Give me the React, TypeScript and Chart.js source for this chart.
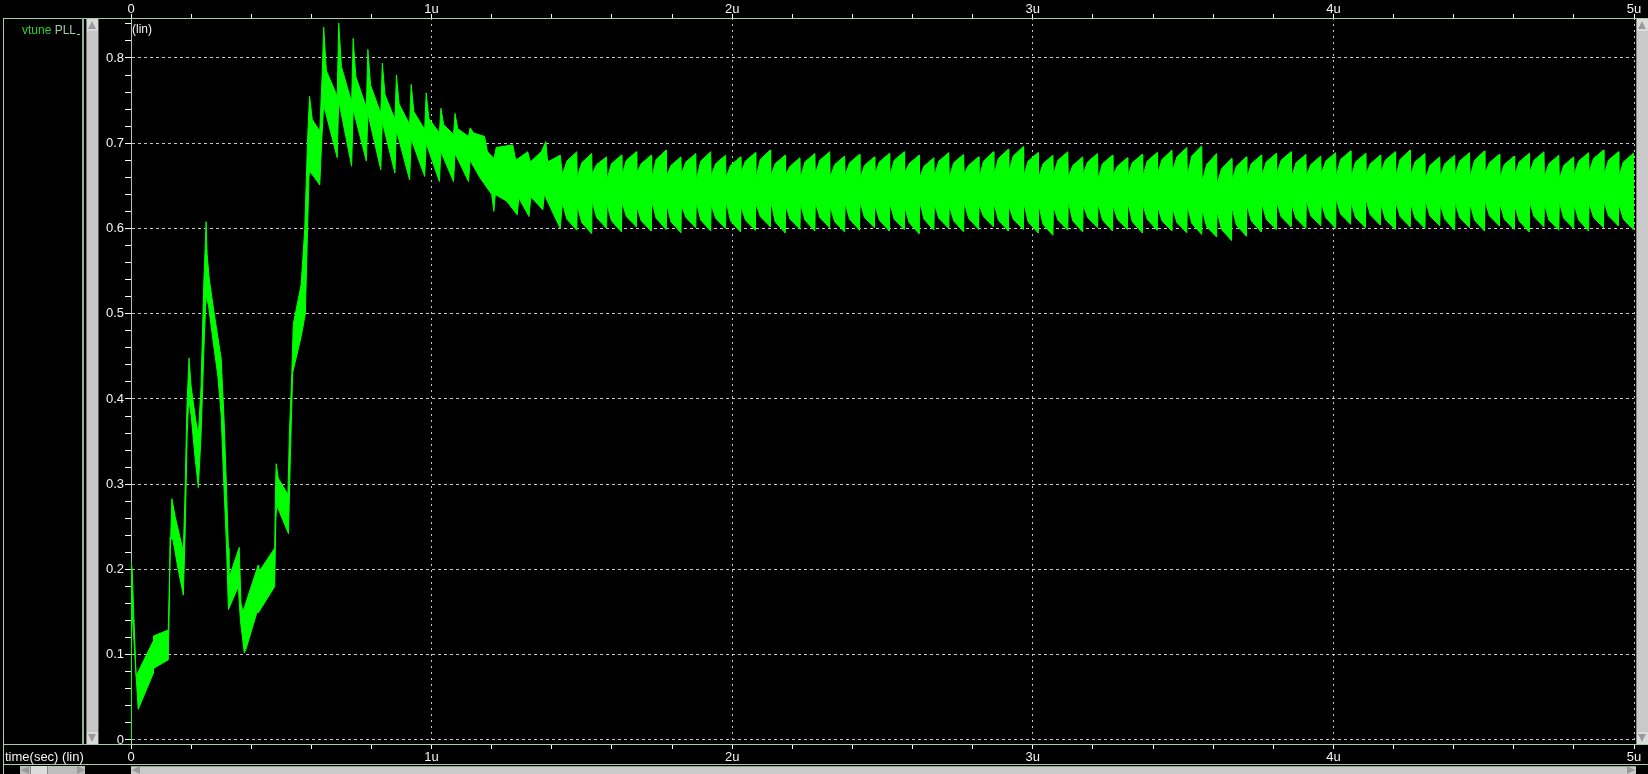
import React, { useEffect, useRef } from 'react';
import { Chart, registerables } from 'chart.js';

Chart.register(...registerables);

// ---------- axis labels ----------
const xTickLabels = ['0', '1u', '2u', '3u', '4u', '5u'];
const yTickLabels = ['0', '0.1', '0.2', '0.3', '0.4', '0.5', '0.6', '0.7', '0.8'];

// ---------- start-up transient envelope (time in µs, volts) ----------
const upperT = [
  0, 0, 0.004, 0.01, 0.017, 0.074, 0.075, 0.124, 0.128, 0.136, 0.147, 0.174, 0.179, 0.186, 0.193,
  0.2, 0.213, 0.224, 0.233, 0.242, 0.25, 0.253, 0.26, 0.273, 0.3, 0.309, 0.317, 0.324, 0.326, 0.36,
  0.366, 0.373, 0.423, 0.425, 0.478, 0.481, 0.483, 0.49, 0.522, 0.527, 0.535, 0.54, 0.566, 0.578,
  0.588, 0.594, 0.603, 0.628, 0.636, 0.641, 0.65, 0.686, 0.691, 0.7, 0.734, 0.739, 0.748, 0.783,
  0.788, 0.797, 0.831, 0.836, 0.845, 0.878, 0.883, 0.892, 0.927, 0.932, 0.941, 0.977, 0.982, 0.991,
  1.026, 1.031, 1.04, 1.073, 1.078, 1.087, 1.123, 1.128, 1.14, 1.176, 1.186, 1.208, 1.215, 1.27,
  1.28, 1.32, 1.328, 1.365, 1.38, 1.386, 1.428,
];
const upperV = [
  0, 0.21, 0.2, 0.14, 0.075, 0.116, 0.122, 0.129, 0.19, 0.283, 0.262, 0.221, 0.28, 0.39, 0.448,
  0.415, 0.381, 0.357, 0.415, 0.534, 0.608, 0.571, 0.542, 0.509, 0.447, 0.381, 0.303, 0.225, 0.19, 0.226,
  0.16, 0.151, 0.205, 0.197, 0.225, 0.3, 0.324, 0.307, 0.288, 0.36, 0.431, 0.488, 0.534, 0.6,
  0.71, 0.755, 0.728, 0.714, 0.78, 0.836, 0.785, 0.755, 0.841, 0.79, 0.748, 0.823, 0.778, 0.742,
  0.81, 0.768, 0.735, 0.794, 0.757, 0.728, 0.78, 0.746, 0.722, 0.769, 0.737, 0.716, 0.759, 0.729,
  0.712, 0.741, 0.722, 0.71, 0.735, 0.717, 0.708, 0.718, 0.712, 0.708, 0.69, 0.682, 0.695, 0.698,
  0.68, 0.69, 0.678, 0.69, 0.702, 0.678, 0.686,
];
const lowerT = [
  0, 0.002, 0.01, 0.024, 0.074, 0.075, 0.124, 0.128, 0.13, 0.14, 0.157, 0.174, 0.18, 0.187, 0.192,
  0.2, 0.213, 0.224, 0.233, 0.244, 0.25, 0.258, 0.273, 0.289, 0.3, 0.308, 0.318, 0.324, 0.357, 0.364,
  0.377, 0.382, 0.42, 0.423, 0.478, 0.482, 0.485, 0.524, 0.53, 0.538, 0.566, 0.58, 0.586, 0.592,
  0.594, 0.61, 0.628, 0.634, 0.641, 0.686, 0.691, 0.734, 0.739, 0.783, 0.788, 0.831, 0.836, 0.878,
  0.883, 0.927, 0.932, 0.977, 0.982, 1.026, 1.031, 1.073, 1.078, 1.123, 1.128, 1.16, 1.2, 1.207,
  1.212, 1.25, 1.285, 1.29, 1.324, 1.33, 1.37, 1.375, 1.428,
];
const lowerV = [
  0, 0.16, 0.115, 0.036, 0.078, 0.084, 0.094, 0.17, 0.238, 0.234, 0.2, 0.17, 0.24, 0.36, 0.4,
  0.381, 0.332, 0.296, 0.357, 0.473, 0.521, 0.509, 0.468, 0.427, 0.381, 0.307, 0.225, 0.153, 0.18, 0.14,
  0.102, 0.106, 0.151, 0.149, 0.18, 0.26, 0.275, 0.242, 0.33, 0.431, 0.473, 0.5, 0.58, 0.66,
  0.667, 0.66, 0.651, 0.7, 0.745, 0.683, 0.75, 0.673, 0.74, 0.679, 0.735, 0.669, 0.725, 0.665,
  0.715, 0.657, 0.705, 0.661, 0.7, 0.655, 0.69, 0.655, 0.688, 0.655, 0.68, 0.66, 0.64, 0.62,
  0.64, 0.632, 0.616, 0.636, 0.614, 0.637, 0.622, 0.64, 0.6,
];

// ---------- settled ripple: one entry per reference-clock tooth ----------
const TOOTH_START = 1.435;
const TOOTH_PERIOD = 0.0495;
const KNEE_AT = 0.3; // fraction of the tooth where the knee values are read
const hiBase = [
  0.663, 0.66, 0.664, 0.658, 0.662, 0.665, 0.659, 0.661, 0.664, 0.657,
  0.662, 0.66, 0.665, 0.658, 0.661, 0.663, 0.659, 0.664, 0.66, 0.662,
  0.658, 0.663, 0.661, 0.665, 0.659, 0.662, 0.66, 0.664, 0.658, 0.663,
  0.666, 0.661, 0.659, 0.663, 0.66, 0.664, 0.658, 0.662, 0.661, 0.66,
  0.664, 0.667, 0.662, 0.655, 0.652, 0.656, 0.659, 0.661, 0.663, 0.66,
  0.662, 0.664, 0.661, 0.659, 0.663, 0.665, 0.66, 0.662, 0.658, 0.661,
  0.663, 0.66, 0.664, 0.659, 0.662, 0.665, 0.661, 0.658, 0.663, 0.666, 0.662, 0.66,
];
const hiKnee = [
  0.679, 0.677, 0.675, 0.676, 0.68, 0.676, 0.681, 0.674, 0.678, 0.679,
  0.676, 0.674, 0.679, 0.681, 0.676, 0.673, 0.678, 0.68, 0.675, 0.677,
  0.674, 0.678, 0.68, 0.676, 0.673, 0.679, 0.677, 0.674, 0.679, 0.682,
  0.685, 0.679, 0.676, 0.68, 0.674, 0.678, 0.676, 0.673, 0.677, 0.679,
  0.681, 0.684, 0.685, 0.675, 0.67, 0.673, 0.676, 0.678, 0.68, 0.677,
  0.675, 0.679, 0.681, 0.678, 0.676, 0.68, 0.681, 0.678, 0.674, 0.676,
  0.679, 0.68, 0.677, 0.675, 0.678, 0.68, 0.676, 0.674, 0.679, 0.682, 0.68, 0.678,
];
const hiPeak = [
  0.69, 0.688, 0.684, 0.686, 0.69, 0.686, 0.692, 0.684, 0.688, 0.69,
  0.686, 0.684, 0.689, 0.692, 0.686, 0.683, 0.688, 0.69, 0.685, 0.687,
  0.684, 0.688, 0.69, 0.686, 0.683, 0.689, 0.687, 0.684, 0.69, 0.693,
  0.696, 0.689, 0.686, 0.69, 0.684, 0.688, 0.686, 0.683, 0.687, 0.689,
  0.692, 0.695, 0.697, 0.688, 0.682, 0.684, 0.686, 0.688, 0.69, 0.687,
  0.685, 0.689, 0.691, 0.688, 0.686, 0.69, 0.692, 0.688, 0.684, 0.686,
  0.689, 0.691, 0.687, 0.685, 0.688, 0.69, 0.686, 0.684, 0.689, 0.692, 0.69, 0.688,
];
const loBase = [
  0.63, 0.627, 0.632, 0.628, 0.631, 0.626, 0.633, 0.629, 0.627, 0.631,
  0.628, 0.632, 0.626, 0.63, 0.633, 0.627, 0.629, 0.631, 0.626, 0.63,
  0.632, 0.628, 0.63, 0.626, 0.633, 0.629, 0.627, 0.631, 0.628, 0.63,
  0.627, 0.631, 0.629, 0.626, 0.632, 0.628, 0.63, 0.627, 0.631, 0.629,
  0.626, 0.624, 0.627, 0.622, 0.62, 0.625, 0.628, 0.63, 0.632, 0.629,
  0.633, 0.63, 0.635, 0.631, 0.634, 0.629, 0.632, 0.63, 0.633, 0.628,
  0.631, 0.629, 0.633, 0.63, 0.627, 0.632, 0.629, 0.631, 0.628, 0.63, 0.632, 0.629,
];
const loKnee = [
  0.611, 0.607, 0.613, 0.609, 0.614, 0.609, 0.612, 0.608, 0.613, 0.61,
  0.612, 0.609, 0.61, 0.614, 0.608, 0.611, 0.61, 0.613, 0.608, 0.611,
  0.613, 0.61, 0.611, 0.607, 0.611, 0.612, 0.609, 0.612, 0.614, 0.61,
  0.611, 0.608, 0.605, 0.61, 0.609, 0.613, 0.61, 0.611, 0.608, 0.611,
  0.609, 0.607, 0.606, 0.602, 0.599, 0.604, 0.609, 0.611, 0.614, 0.612,
  0.615, 0.613, 0.617, 0.613, 0.616, 0.611, 0.614, 0.612, 0.615, 0.611,
  0.613, 0.61, 0.615, 0.611, 0.609, 0.614, 0.61, 0.612, 0.61, 0.613, 0.615, 0.611,
];
const loTrough = [
  0.598, 0.594, 0.6, 0.596, 0.602, 0.597, 0.599, 0.595, 0.601, 0.597,
  0.6, 0.596, 0.598, 0.602, 0.595, 0.599, 0.597, 0.601, 0.596, 0.598,
  0.601, 0.597, 0.599, 0.594, 0.598, 0.6, 0.596, 0.599, 0.602, 0.597,
  0.599, 0.595, 0.592, 0.598, 0.596, 0.601, 0.597, 0.599, 0.595, 0.598,
  0.597, 0.595, 0.593, 0.59, 0.586, 0.591, 0.596, 0.599, 0.602, 0.6,
  0.603, 0.6, 0.605, 0.601, 0.604, 0.599, 0.602, 0.6, 0.603, 0.598,
  0.601, 0.597, 0.603, 0.599, 0.596, 0.602, 0.598, 0.6, 0.597, 0.601, 0.603, 0.599,
];

// ---------- styling ----------
const GREEN = '#00ff00';
const FRAME = '#a6cea6';
const GRID = '#c6c6c6';
const TEXT = '#f4f4f4';
const FONT = "'Liberation Sans', Arial, sans-serif";

const X_MAX = 5;
const Y_MIN = -0.0047;
const Y_MAX = 0.8469;

function buildEnvelope() {
  const hi = upperT.map((t, i) => ({ x: t, y: upperV[i] }));
  const lo = lowerT.map((t, i) => ({ x: t, y: lowerV[i] }));
  for (let k = 0; k < hiPeak.length; k++) {
    const t0 = TOOTH_START + k * TOOTH_PERIOD;
    const tk = t0 + KNEE_AT * TOOTH_PERIOD;
    const t1 = Math.min(X_MAX, t0 + TOOTH_PERIOD - 0.0015);
    hi.push({ x: t0, y: hiBase[k] }, { x: tk, y: hiKnee[k] }, { x: t1, y: hiPeak[k] });
    lo.push({ x: t0, y: loBase[k] }, { x: tk, y: loKnee[k] }, { x: t1, y: loTrough[k] });
  }
  return [...hi, ...lo.reverse()];
}

const xTickValues = Array.from({ length: 26 }, (_, i) => Math.round(i * 2) / 10);
const yTickValues = Array.from({ length: 43 }, (_, i) => Math.round(i * 2) / 100);

const isWhole = (v: number, step: number) => Math.abs(v / step - Math.round(v / step)) < 1e-6;

function xAxis(position: 'top' | 'bottom') {
  const top = position === 'top';
  return {
    type: 'linear',
    position,
    min: 0,
    max: X_MAX,
    afterBuildTicks: (s: any) => {
      s.ticks = xTickValues.map((value) => ({ value }));
    },
    afterFit: (s: any) => {
      s.height = top ? 18 : 30;
    },
    ticks: {
      autoSkip: false,
      maxRotation: 0,
      color: TEXT,
      padding: top ? -2 : 2,
      font: { family: FONT, size: 13, lineHeight: 1 },
      callback: (v: number) => (isWhole(v, 1) ? xTickLabels[Math.round(v)] : ''),
    },
    grid: {
      drawOnChartArea: !top,
      tickLength: top ? 4 : 5,
      lineWidth: 1,
      color: (c: any) => (c.tick && isWhole(c.tick.value, 1) && c.tick.value > 0 ? GRID : 'rgba(0,0,0,0)'),
      tickColor: '#ffffff',
      tickWidth: 1,
    },
    border: { display: true, color: FRAME, width: 1, dash: [2, 4] },
  };
}

const abs = (s: React.CSSProperties): React.CSSProperties => ({ position: 'absolute', boxSizing: 'border-box', ...s });

function Tri({ x, y, dir, size = 4, color = '#9a9a9a' }: { x: number; y: number; dir: 'up' | 'down' | 'left' | 'right'; size?: number; color?: string }) {
  const t = 'transparent';
  const st: React.CSSProperties = { position: 'absolute', left: x, top: y, width: 0, height: 0 };
  if (dir === 'up') Object.assign(st, { borderLeft: `${size}px solid ${t}`, borderRight: `${size}px solid ${t}`, borderBottom: `${size * 2}px solid ${color}` });
  if (dir === 'down') Object.assign(st, { borderLeft: `${size}px solid ${t}`, borderRight: `${size}px solid ${t}`, borderTop: `${size * 2}px solid ${color}` });
  if (dir === 'left') Object.assign(st, { borderTop: `${size}px solid ${t}`, borderBottom: `${size}px solid ${t}`, borderRight: `${size * 2}px solid ${color}` });
  if (dir === 'right') Object.assign(st, { borderTop: `${size}px solid ${t}`, borderBottom: `${size}px solid ${t}`, borderLeft: `${size * 2}px solid ${color}` });
  return <div style={st} />;
}

export default function App() {
  const ref = useRef<HTMLCanvasElement>(null);

  useEffect(() => {
    document.body.style.margin = '0';
    document.body.style.background = '#000';
    const canvas = ref.current;
    if (!canvas) return;
    const chart = new Chart(canvas, {
      type: 'line',
      data: {
        datasets: [
          {
            label: 'vtune PLL',
            data: buildEnvelope(),
            borderColor: GREEN,
            backgroundColor: GREEN,
            borderWidth: 1,
            pointRadius: 0,
            tension: 0,
            fill: 'shape',
          },
        ],
      },
      options: {
        animation: false,
        responsive: false,
        maintainAspectRatio: false,
        devicePixelRatio: 1,
        events: [],
        layout: { padding: { left: 0, right: 14, top: 0, bottom: 0 } },
        plugins: { legend: { display: false }, tooltip: { enabled: false } },
        scales: {
          x: xAxis('bottom') as any,
          xTop: xAxis('top') as any,
          y: {
            type: 'linear',
            position: 'left',
            min: Y_MIN,
            max: Y_MAX,
            afterBuildTicks: (s: any) => {
              s.ticks = yTickValues.map((value) => ({ value }));
            },
            afterFit: (s: any) => {
              s.width = 131;
            },
            ticks: {
              autoSkip: false,
              color: TEXT,
              padding: 1,
              font: { family: FONT, size: 13, lineHeight: 1 },
              callback: (v: number) => (isWhole(v, 0.1) ? yTickLabels[Math.round(v * 10)] : ''),
            },
            grid: {
              tickLength: 6,
              lineWidth: 1,
              color: (c: any) => (c.tick && isWhole(c.tick.value, 0.1) ? GRID : 'rgba(0,0,0,0)'),
              tickColor: '#ffffff',
              tickWidth: 1,
            },
            border: { display: true, color: FRAME, width: 1, dash: [3, 3] },
          },
        },
      },
    });
    return () => chart.destroy();
  }, []);

  return (
    <div style={{ position: 'fixed', left: 0, top: 0, width: 1648, height: 774, background: '#000', overflow: 'hidden' }}>
      <canvas ref={ref} width={1648} height={774} style={{ position: 'absolute', left: 0, top: 0, width: 1648, height: 774 }} />

      {/* frame lines */}
      <div style={abs({ left: 3, top: 18, width: 1645, height: 1, background: FRAME })} />
      <div style={abs({ left: 3, top: 744, width: 1645, height: 1, background: FRAME })} />
      <div style={abs({ left: 3, top: 764, width: 1645, height: 1, background: FRAME })} />
      <div style={abs({ left: 3, top: 18, width: 1, height: 756, background: FRAME })} />
      <div style={abs({ left: 82, top: 18, width: 2, height: 727, background: '#8db58d' })} />

      {/* left vertical scrollbar */}
      <div style={abs({ left: 86, top: 19, width: 12, height: 725, background: '#c6c6c6', borderLeft: '1px solid #7c7c7c' })} />
      <div style={abs({ left: 87, top: 19, width: 11, height: 12, background: '#dadada' })} />
      <Tri x={88} y={21} dir="up" />
      <div style={abs({ left: 87, top: 732, width: 11, height: 12, background: '#dadada' })} />
      <Tri x={88} y={734} dir="down" />
      <div style={abs({ left: 98, top: 19, width: 1, height: 725, background: '#5e5e5e' })} />

      {/* right vertical scrollbar */}
      <div style={abs({ left: 1636, top: 19, width: 12, height: 725, background: '#c9c9c9', borderLeft: '1px solid #8a8a8a' })} />
      <div style={abs({ left: 1637, top: 19, width: 11, height: 12, background: '#dcdcdc' })} />
      <Tri x={1638} y={21} dir="up" />
      <div style={abs({ left: 1637, top: 732, width: 11, height: 12, background: '#dcdcdc' })} />
      <Tri x={1638} y={734} dir="down" />

      {/* bottom-left small scrollbar */}
      <div style={abs({ left: 20, top: 766, width: 65, height: 8, background: '#bdbdbd' })} />
      <div style={abs({ left: 30, top: 766, width: 18, height: 8, background: '#dcdcdc', borderLeft: '1px solid #8a8a8a', borderRight: '1px solid #8a8a8a' })} />
      <Tri x={21} y={766} dir="left" size={4} />
      <Tri x={77} y={766} dir="right" size={4} />

      {/* bottom main scrollbar */}
      <div style={abs({ left: 131, top: 766, width: 1505, height: 8, background: '#cbcbcb', borderTop: '1px solid #9a9a9a' })} />
      <Tri x={132} y={766} dir="left" size={4} />
      <Tri x={1627} y={766} dir="right" size={4} />

      {/* texts */}
      <div style={abs({ left: 22, top: 23, font: `12px ${FONT}`, lineHeight: '14px', whiteSpace: 'nowrap' })}>
        <span style={{ color: '#2fcf2f' }}>vtune</span>
        <span style={{ color: '#a3c8a3' }}> PLL</span>
      </div>
      <div style={abs({ left: 77, top: 34, width: 3, height: 1, background: '#a3c8a3' })} />
      <div style={abs({ left: 132, top: 22, font: `12px ${FONT}`, lineHeight: '14px', color: TEXT, whiteSpace: 'nowrap' })}>(lin)</div>
      <div style={abs({ left: 5, top: 749, font: `13px ${FONT}`, lineHeight: '15px', color: TEXT, whiteSpace: 'nowrap' })}>time(sec) (lin)</div>
    </div>
  );
}
